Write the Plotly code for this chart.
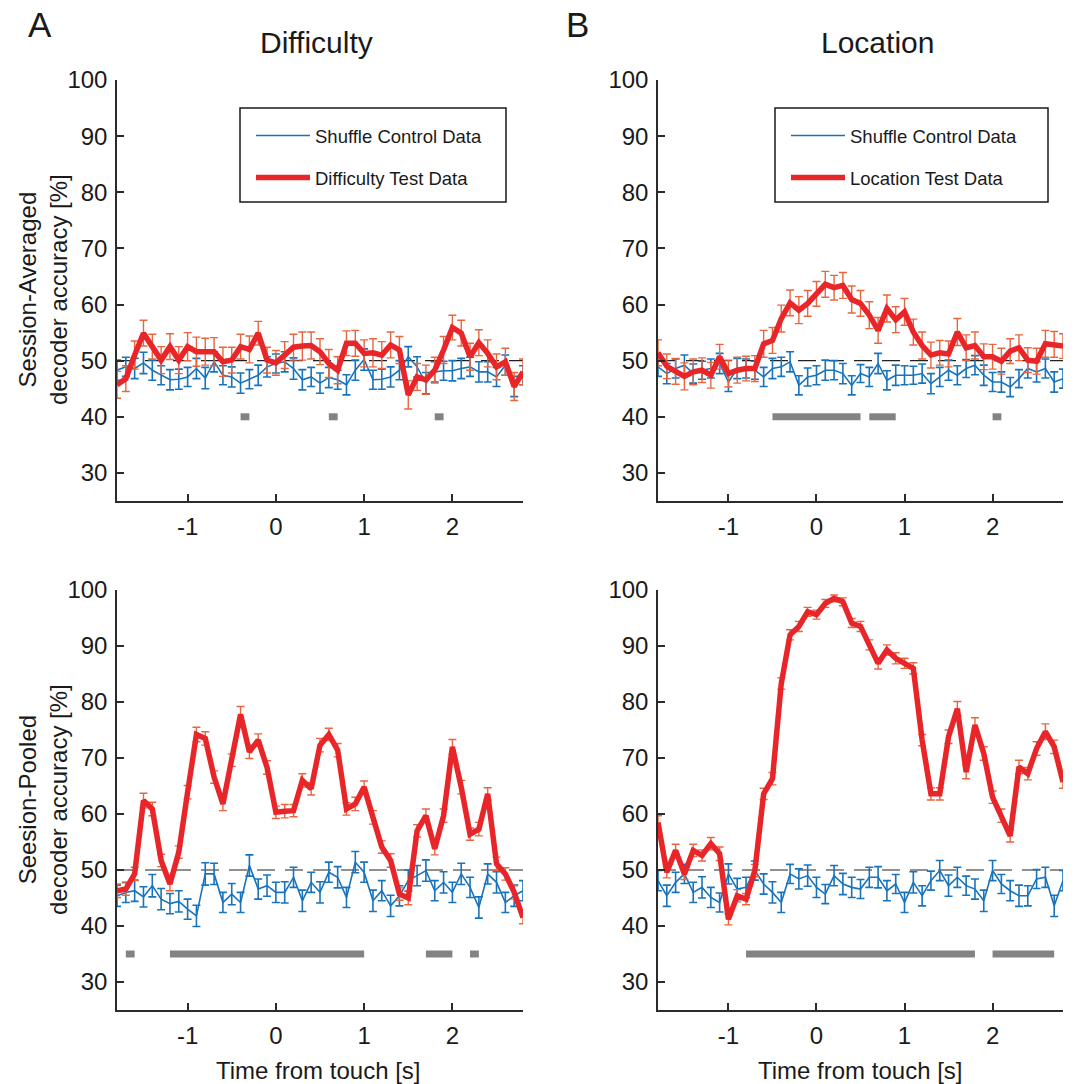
import plotly.graph_objects as go

# ---------------- data ----------------
time_s = [round(-1.8 + 0.1 * i, 1) for i in range(47)]

diff_avg_test = [45.7, 46.8, 51.0, 54.9, 52.5, 50.1, 52.5, 50.1, 52.5, 51.6, 51.6, 51.6, 49.8, 50.1, 52.5, 52.0,
                 54.9, 50.1, 49.6, 51.0, 52.4, 52.6, 52.7, 51.6, 49.5, 48.3, 53.1, 53.1, 51.3, 51.4, 51.0, 52.8,
                 51.9, 43.9, 47.1, 46.6, 48.3, 51.9, 55.9, 54.9, 50.7, 53.2, 51.3, 48.9, 49.8, 45.4, 48.0]
diff_avg_test_err = [2.4, 2.3, 2.5, 2.3, 2.2, 2.4, 2.3, 2.4, 2.5, 2.6, 2.4, 2.5, 2.6, 2.3, 2.2, 2.4,
                     2.1, 2.3, 2.2, 2.4, 2.3, 2.5, 2.4, 2.3, 2.5, 2.4, 2.2, 2.3, 2.4, 2.5, 2.4, 2.3,
                     2.4, 2.5, 2.4, 2.6, 2.3, 2.4, 2.2, 2.3, 2.4, 2.3, 2.4, 2.3, 2.4, 2.5, 2.3]
diff_avg_ctrl = [48.3, 48.9, 48.6, 49.6, 48.3, 47.4, 46.6, 46.7, 47.1, 48.6, 46.9, 49.8, 47.4, 47.1, 46.0, 46.7,
                 47.4, 48.9, 49.5, 49.8, 48.6, 46.6, 47.1, 46.0, 47.0, 46.6, 45.7, 48.3, 50.2, 46.6, 46.7, 47.1,
                 48.3, 50.7, 48.9, 46.0, 48.0, 48.2, 48.2, 48.6, 48.9, 48.0, 48.0, 47.1, 49.2, 45.4, 47.4]
diff_avg_ctrl_err = [1.8, 1.7, 1.8, 1.9, 1.8, 1.7, 1.8, 1.8, 1.7, 1.8, 1.9, 1.8, 1.7, 1.8, 1.8, 1.7,
                     1.8, 1.8, 1.7, 1.8, 1.9, 1.8, 1.7, 1.8, 1.8, 1.7, 1.8, 1.8, 1.9, 1.7, 1.8, 1.8,
                     1.7, 1.8, 1.8, 1.9, 1.8, 1.7, 1.8, 1.8, 1.7, 1.8, 1.8, 1.7, 1.8, 1.8, 1.7]

loc_avg_test = [51.4, 49.0, 48.1, 47.2, 48.0, 48.3, 47.4, 50.7, 47.7, 48.3, 48.6, 48.6, 53.0, 53.6, 57.5, 60.3,
                59.0, 60.2, 61.9, 63.6, 63.0, 63.4, 60.9, 60.2, 58.1, 55.4, 59.3, 57.3, 58.7, 55.1, 52.7, 51.0,
                51.4, 51.2, 55.1, 52.3, 52.7, 50.7, 50.7, 49.9, 51.7, 52.3, 50.1, 49.9, 53.0, 52.9, 52.6]
loc_avg_test_err = [2.3, 2.2, 2.3, 2.4, 2.3, 2.2, 2.3, 2.2, 2.4, 2.3, 2.2, 2.3, 2.4, 2.3, 2.4, 2.3,
                    2.4, 2.3, 2.2, 2.3, 2.2, 2.3, 2.4, 2.3, 2.4, 2.3, 2.4, 2.3, 2.4, 2.3, 2.4, 2.3,
                    2.2, 2.3, 2.4, 2.3, 2.4, 2.3, 2.2, 2.3, 2.2, 2.3, 2.2, 2.3, 2.4, 2.3, 2.2]
loc_avg_ctrl = [48.9, 47.7, 48.6, 49.2, 47.7, 48.3, 48.6, 49.5, 46.2, 48.6, 48.6, 48.3, 47.1, 48.6, 48.9, 49.8,
                45.6, 47.1, 47.4, 48.3, 48.3, 47.7, 45.6, 47.7, 47.1, 49.5, 46.5, 47.4, 47.4, 47.4, 47.7, 45.9,
                47.1, 48.3, 47.4, 48.6, 49.2, 47.4, 46.2, 46.2, 45.3, 46.8, 48.6, 48.0, 48.6, 46.2, 46.8]
loc_avg_ctrl_err = [1.7, 1.8, 1.7, 1.8, 1.7, 1.6, 1.7, 1.8, 1.7, 1.8, 1.7, 1.6, 1.7, 1.8, 1.7, 1.8,
                    1.7, 1.6, 1.7, 1.8, 1.7, 1.8, 1.7, 1.6, 1.7, 1.8, 1.7, 1.8, 1.7, 1.6, 1.7, 1.8,
                    1.7, 1.8, 1.7, 1.6, 1.7, 1.8, 1.7, 1.8, 1.7, 1.6, 1.7, 1.8, 1.7, 1.8, 1.7]

diff_pool_test = [46.3, 46.6, 49.3, 62.4, 60.9, 51.7, 47.5, 53.2, 63.9, 74.2, 73.5, 66.6, 61.8, 69.6, 77.8, 71.1,
                  73.2, 68.3, 60.3, 60.5, 60.6, 66.0, 64.5, 72.3, 74.2, 71.4, 60.9, 61.8, 64.8, 59.4, 54.1, 51.7,
                  45.7, 45.0, 57.0, 59.7, 53.8, 59.7, 72.0, 64.8, 56.4, 57.3, 63.6, 51.1, 49.3, 46.0, 41.5]
diff_pool_test_err = [1.2, 1.1, 1.2, 1.3, 1.2, 1.1, 1.2, 1.1, 1.2, 1.3, 1.2, 1.1, 1.2, 1.1, 1.4, 1.2,
                      1.1, 1.2, 1.1, 1.2, 1.1, 1.2, 1.1, 1.2, 1.1, 1.2, 1.1, 1.2, 1.1, 1.2, 1.1, 1.2,
                      1.1, 1.2, 1.1, 1.2, 1.1, 1.2, 1.3, 1.2, 1.1, 1.2, 1.1, 1.2, 1.1, 1.2, 1.1]
diff_pool_ctrl = [45.4, 46.0, 46.3, 45.2, 47.2, 44.8, 44.0, 44.4, 43.0, 41.8, 49.3, 49.3, 44.2, 45.7, 44.2, 50.8,
                  46.6, 47.2, 46.0, 46.0, 48.7, 44.5, 47.8, 46.0, 49.6, 48.7, 45.1, 51.4, 49.6, 44.5, 46.3, 43.6,
                  45.4, 48.1, 49.0, 49.9, 46.3, 47.8, 46.0, 49.3, 46.9, 43.3, 49.3, 47.8, 44.2, 45.4, 46.3]
diff_pool_ctrl_err = [1.9, 1.8, 1.9, 1.8, 2.0, 1.9, 1.8, 1.9, 1.8, 1.9, 2.0, 1.9, 1.8, 1.9, 1.8, 1.9,
                      1.8, 1.9, 1.8, 1.9, 1.8, 1.9, 1.8, 1.9, 1.8, 1.9, 1.8, 1.9, 1.8, 1.9, 1.8, 1.9,
                      1.8, 1.9, 1.8, 1.9, 1.8, 1.9, 1.8, 1.9, 1.8, 1.9, 1.8, 1.9, 1.8, 1.9, 1.8]

loc_pool_test = [58.5, 49.6, 53.5, 49.3, 53.5, 52.6, 54.7, 52.9, 41.2, 45.4, 44.8, 49.9, 63.6, 66.3, 83.3, 92.0,
                 93.5, 96.1, 95.6, 97.6, 98.5, 97.9, 94.1, 93.5, 90.2, 86.9, 89.3, 87.8, 86.9, 86.0, 73.2, 63.6,
                 63.6, 73.8, 78.8, 67.5, 75.9, 70.8, 63.0, 59.7, 56.1, 68.4, 67.2, 71.7, 74.7, 72.0, 65.7]
loc_pool_test_err = [1.2, 1.0, 1.1, 1.0, 1.1, 1.0, 1.1, 1.2, 1.0, 1.1, 1.0, 1.1, 1.0, 1.1, 1.0, 0.9,
                     0.9, 0.8, 0.8, 0.7, 0.6, 0.7, 0.8, 0.9, 0.9, 1.0, 0.9, 1.0, 0.9, 1.0, 1.0, 1.1,
                     1.1, 1.2, 1.3, 1.2, 1.3, 1.2, 1.1, 1.2, 1.1, 1.2, 1.1, 1.2, 1.4, 1.2, 1.1]
loc_pool_ctrl = [48.1, 45.4, 47.8, 49.3, 46.0, 46.9, 45.1, 44.2, 49.3, 46.6, 46.9, 49.9, 47.5, 46.0, 44.2, 49.3,
                 48.4, 49.0, 46.9, 45.7, 49.0, 47.5, 46.9, 46.6, 48.7, 48.7, 46.3, 47.5, 44.2, 47.8, 45.4, 48.1,
                 49.9, 47.2, 48.7, 47.2, 46.6, 44.5, 49.9, 47.5, 46.3, 45.4, 45.4, 48.4, 48.7, 43.6, 48.1]
loc_pool_ctrl_err = [1.8, 1.9, 1.8, 1.7, 1.8, 1.9, 1.8, 1.7, 1.8, 1.9, 1.8, 1.7, 1.8, 1.9, 1.8, 1.7,
                     1.8, 1.9, 1.8, 1.7, 1.8, 1.9, 1.8, 1.7, 1.8, 1.9, 1.8, 1.7, 1.8, 1.9, 1.8, 1.7,
                     1.8, 1.9, 1.8, 1.7, 1.8, 1.9, 1.8, 1.7, 1.8, 1.9, 1.8, 1.7, 1.8, 1.9, 1.8]

# significance intervals (start, end) in seconds, and bar level
sig_diff_avg = [(-0.4, -0.3), (0.6, 0.7), (1.8, 1.9)]
sig_loc_avg = [(-0.5, 0.5), (0.6, 0.9), (2.0, 2.1)]
sig_diff_pool = [(-1.7, -1.6), (-1.2, 1.0), (1.7, 2.0), (2.2, 2.3)]
sig_loc_pool = [(-0.8, 1.8), (2.0, 2.7)]
sig_level_avg = 40
sig_level_pool = 35
chance_level = 50

x_ticks = [-1, 0, 1, 2]
x_tick_labels = ["-1", "0", "1", "2"]
y_ticks = [30, 40, 50, 60, 70, 80, 90, 100]

# ---------------- style ----------------
FONT = "Arial, Liberation Sans, sans-serif"
RED = "#E8262A"
RED_ERR = "#E8663E"
BLUE = "#1873BD"
GRAY = "#838383"
AX = "#2b2b2b"
TXT = "#1a1a1a"

W, H = 1075, 1084
xdomA = [117 / W, 523 / W]
xdomB = [658 / W, 1063 / W]
ydomTop = [1 - 501 / H, 1 - 80 / H]
ydomBot = [1 - 1010 / H, 1 - 590 / H]

fig = go.Figure()

panels = [
    ("", diff_avg_test, diff_avg_test_err, diff_avg_ctrl, diff_avg_ctrl_err, sig_diff_avg, sig_level_avg, "legend", "Difficulty Test Data"),
    ("2", loc_avg_test, loc_avg_test_err, loc_avg_ctrl, loc_avg_ctrl_err, sig_loc_avg, sig_level_avg, "legend2", "Location Test Data"),
    ("3", diff_pool_test, diff_pool_test_err, diff_pool_ctrl, diff_pool_ctrl_err, sig_diff_pool, sig_level_pool, None, None),
    ("4", loc_pool_test, loc_pool_test_err, loc_pool_ctrl, loc_pool_ctrl_err, sig_loc_pool, sig_level_pool, None, None),
]

for sfx, test, test_err, ctrl, ctrl_err, sig, sig_level, leg, tname in panels:
    xa, ya = "x" + sfx, "y" + sfx
    sx, sy = [], []
    for a, b in sig:
        sx += [a, b, None]
        sy += [sig_level, sig_level, None]
    fig.add_trace(go.Scatter(x=sx, y=sy, mode="lines", line=dict(color=GRAY, width=7),
                             xaxis=xa, yaxis=ya, showlegend=False, hoverinfo="skip"))
    fig.add_trace(go.Scatter(x=[-1.8, 2.8], y=[chance_level, chance_level], mode="lines",
                             line=dict(color="#222222", width=1.2, dash="18px,10px"),
                             xaxis=xa, yaxis=ya, showlegend=False, hoverinfo="skip"))
    fig.add_trace(go.Scatter(x=time_s, y=ctrl, mode="lines", name="Shuffle Control Data",
                             line=dict(color=BLUE, width=1.6),
                             error_y=dict(type="data", array=ctrl_err, color=BLUE, thickness=1.6, width=4),
                             xaxis=xa, yaxis=ya, showlegend=leg is not None,
                             legend=leg if leg else "legend", legendgroup="c" + sfx))
    fig.add_trace(go.Scatter(x=time_s, y=test, mode="lines", line=dict(color=RED_ERR, width=1),
                             error_y=dict(type="data", array=test_err, color=RED_ERR, thickness=1.4, width=4),
                             xaxis=xa, yaxis=ya, showlegend=False, hoverinfo="skip"))
    fig.add_trace(go.Scatter(x=time_s, y=test, mode="lines", name=tname if tname else "Test",
                             line=dict(color=RED, width=5.5),
                             xaxis=xa, yaxis=ya, showlegend=leg is not None,
                             legend=leg if leg else "legend", legendgroup="t" + sfx))

axis_common = dict(showline=True, linecolor=AX, linewidth=1.5, ticks="inside", ticklen=7,
                   tickcolor=AX, tickwidth=1.5, showgrid=False, zeroline=False,
                   tickfont=dict(family=FONT, size=24, color=TXT), mirror=False,
                   ticklabelstandoff=3)
xcommon = dict(range=[-1.8, 2.8], tickvals=x_ticks, ticktext=x_tick_labels, **axis_common)
ycommon = dict(range=[25, 100], tickvals=y_ticks, **axis_common)

legend_common = dict(y=1 - 117 / H, xanchor="left", yanchor="top", bgcolor="rgba(0,0,0,0)",
                     borderwidth=0, font=dict(family=FONT, size=18.5, color=TXT),
                     itemwidth=54, tracegroupgap=15, traceorder="grouped")

fig.update_layout(
    width=W, height=H, margin=dict(l=0, r=0, t=0, b=0, autoexpand=False),
    plot_bgcolor="white", paper_bgcolor="white",
    font=dict(family=FONT, color=TXT),
    xaxis=dict(domain=xdomA, anchor="y", **xcommon),
    xaxis2=dict(domain=xdomB, anchor="y2", **xcommon),
    xaxis3=dict(domain=xdomA, anchor="y3", **xcommon),
    xaxis4=dict(domain=xdomB, anchor="y4", **xcommon),
    yaxis=dict(domain=ydomTop, anchor="x", **ycommon),
    yaxis2=dict(domain=ydomTop, anchor="x2", **ycommon),
    yaxis3=dict(domain=ydomBot, anchor="x3", **ycommon),
    yaxis4=dict(domain=ydomBot, anchor="x4", **ycommon),
    legend=dict(x=251 / W, **legend_common),
    legend2=dict(x=786 / W, **legend_common),
    showlegend=True,
)

# legend frames
for x0, x1 in [(240, 506), (775, 1048)]:
    fig.add_shape(type="rect", xref="paper", yref="paper", x0=x0 / W, x1=x1 / W,
                  y0=1 - 202 / H, y1=1 - 108 / H, line=dict(color=TXT, width=1.5),
                  fillcolor="rgba(0,0,0,0)")

ann = [
    dict(text="A", x=40 / W, y=1 - 25 / H, font=dict(size=35)),
    dict(text="B", x=577 / W, y=1 - 25 / H, font=dict(size=35)),
    dict(text="Difficulty", x=316 / W, y=1 - 42 / H, font=dict(size=30)),
    dict(text="Location", x=877 / W, y=1 - 42 / H, font=dict(size=30)),
    dict(text="Session-Averaged<br>decoder accuracy [%]", x=43 / W, y=1 - 290 / H,
         textangle=-90, font=dict(size=24)),
    dict(text="Seesion-Pooled<br>decoder accuracy [%]", x=43 / W, y=1 - 800 / H,
         textangle=-90, font=dict(size=24)),
    dict(text="Time from touch [s]", x=318 / W, y=1 - 1070 / H, font=dict(size=24)),
    dict(text="Time from touch [s]", x=860 / W, y=1 - 1070 / H, font=dict(size=24)),
]
for a in ann:
    a.update(xref="paper", yref="paper", showarrow=False, xanchor="center", yanchor="middle")
    a["font"].update(family=FONT, color=TXT)
fig.update_layout(annotations=ann)

fig.write_html("out.html", config={"displayModeBar": False},
               post_script="document.body.style.margin='0';document.body.style.overflow='hidden';")
